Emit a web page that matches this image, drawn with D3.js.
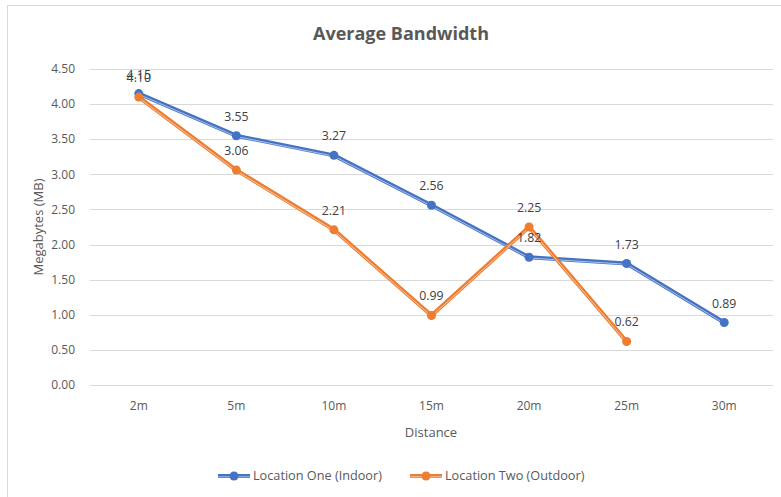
<!DOCTYPE html>
<html><head><meta charset="utf-8">
<script src="https://cdn.jsdelivr.net/npm/d3@7"></script>
<style>body{margin:0;background:#fff;} text{font-family:"Open Sans","Noto Sans",sans-serif;}</style>
</head><body><svg id="c" width="781" height="497"></svg>
<script>
const categories = ["2m","5m","10m","15m","20m","25m","30m"];
const seriesNames = ["Location One (Indoor)","Location Two (Outdoor)"];
const locationOne = [4.15,3.55,3.27,2.56,1.82,1.73,0.89];
const locationTwo = [4.10,3.06,2.21,0.99,2.25,0.62];
const yTicks = [0,0.5,1,1.5,2,2.5,3,3.5,4,4.5];
const colors = ["#4472C4","#ED7D31"];

const svg = d3.select("#c");
svg.append("rect").attr("x",7.5).attr("y",5.5).attr("width",780).attr("height",500)
  .attr("fill","#fff").attr("stroke","#d9d9d9");

const x = d3.scaleBand().domain(categories).range([90,773]);
const y = d3.scaleLinear().domain([0,4.5]).range([385,69]);

// gridlines
svg.append("g").selectAll("line").data(yTicks).join("line")
  .attr("x1",90).attr("x2",773).attr("y1",d=>Math.round(y(d))+0.5).attr("y2",d=>Math.round(y(d))+0.5)
  .attr("stroke","#d9d9d9").attr("stroke-width",1);

// y labels
svg.append("g").selectAll("text").data(yTicks).join("text")
  .attr("x",75).attr("y",d=>y(d)).attr("dy","0.35em").attr("text-anchor","end")
  .attr("font-size",12).attr("fill","#595959").text(d=>d.toFixed(2));

// x labels
svg.append("g").selectAll("text").data(categories).join("text")
  .attr("x",d=>x(d)+x.bandwidth()/2).attr("y",410).attr("text-anchor","middle")
  .attr("font-size",12).attr("fill","#595959").text(d=>d);

// title and axis titles
svg.append("text").attr("x",401).attr("y",40).attr("text-anchor","middle")
  .attr("font-size",18).attr("font-weight","bold").attr("fill","#595959").text("Average Bandwidth");
svg.append("text").attr("transform","translate(43,227) rotate(-90)").attr("text-anchor","middle")
  .attr("font-size",13).attr("fill","#595959").text("Megabytes (MB)");
svg.append("text").attr("x",431).attr("y",437).attr("text-anchor","middle")
  .attr("font-size",13).attr("fill","#595959").text("Distance");

const series = [locationOne, locationTwo];
const line = d3.line().x((d,i)=>x(categories[i])+x.bandwidth()/2).y(d=>y(d));

series.forEach((vals,si)=>{
  const g = svg.append("g");
  g.append("path").attr("d",line(vals)).attr("fill","none").attr("stroke",colors[si])
    .attr("stroke-width",4).attr("stroke-linejoin","round");
  g.append("path").attr("d",line(vals)).attr("fill","none").attr("stroke","#fff")
    .attr("stroke-opacity",0.7).attr("stroke-width",0.8).attr("transform","translate(0,0.8)");
  g.selectAll("circle").data(vals).join("circle")
    .attr("cx",(d,i)=>x(categories[i])+x.bandwidth()/2).attr("cy",d=>y(d)).attr("r",4.5)
    .attr("fill",colors[si]);
});
series.forEach((vals,si)=>{
  svg.append("g").selectAll("text").data(vals).join("text")
    .attr("x",(d,i)=>x(categories[i])+x.bandwidth()/2).attr("y",d=>y(d)-15)
    .attr("text-anchor","middle").attr("font-size",12.3).attr("fill","#404040").text(d=>d.toFixed(2));
});

// legend
const legX = [218,410];
seriesNames.forEach((n,si)=>{
  const g = svg.append("g");
  g.append("line").attr("x1",legX[si]).attr("x2",legX[si]+32).attr("y1",476).attr("y2",476)
    .attr("stroke",colors[si]).attr("stroke-width",4);
  g.append("line").attr("x1",legX[si]).attr("x2",legX[si]+32).attr("y1",476.8).attr("y2",476.8)
    .attr("stroke","#fff").attr("stroke-opacity",0.7).attr("stroke-width",0.8);
  g.append("circle").attr("cx",legX[si]+16).attr("cy",476).attr("r",4.5).attr("fill",colors[si]);
  g.append("text").attr("x",legX[si]+35).attr("y",476).attr("dy","0.35em")
    .attr("font-size",12.7).attr("fill","#595959").text(n);
});
</script></body></html>
